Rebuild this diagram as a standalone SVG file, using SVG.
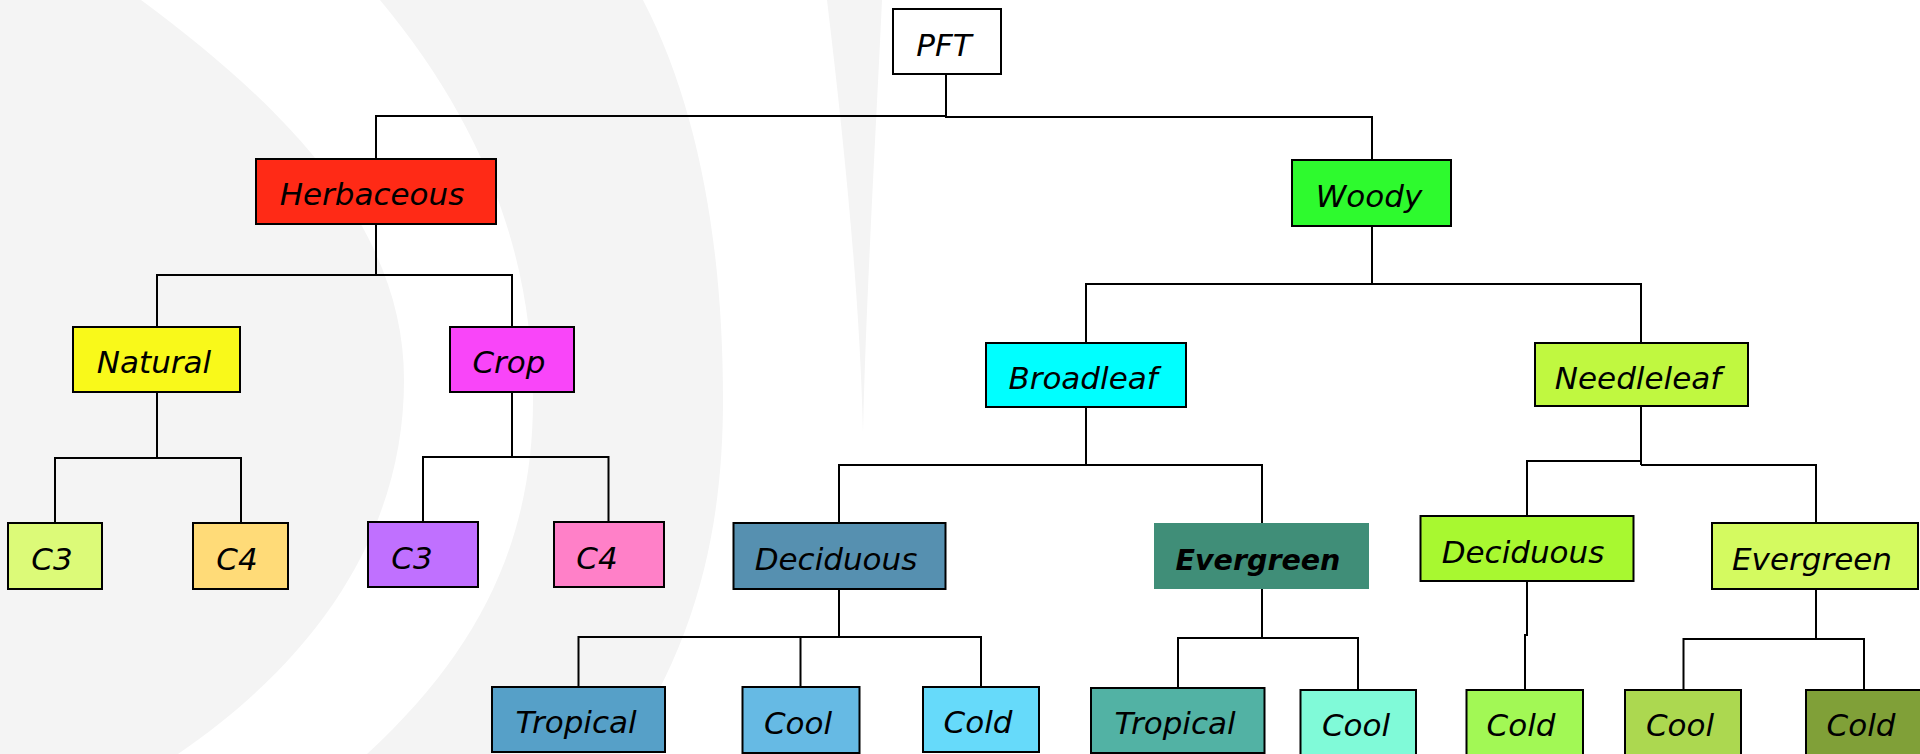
<svg xmlns="http://www.w3.org/2000/svg" width="1920" height="754" viewBox="0 0 1920 754">
<style>
.bg{fill:#f4f4f4}
.n rect{stroke:#000;stroke-width:2}
.n text{font-family:"DejaVu Sans","Liberation Sans",sans-serif;font-style:oblique;font-size:31px;fill:#000;text-anchor:middle}
.c{fill:none;stroke:#000;stroke-width:2}
</style>
<rect width="1920" height="754" fill="#fff"/>
<g id="watermark">
<path class="bg" d="M0,0 H141 C290,110 404,230 404,380 C404,520 330,650 178,754 H0 Z"/>
<path class="bg" d="M380,0 C480,120 533,250 533,400 C533,540 480,650 367,754 H620 C700,640 723,520 723,400 C723,250 700,110 643,0 Z"/>
<path class="bg" d="M827,0 C845,150 860,300 863,433 C866,300 875,150 882,0 Z"/>
</g>
<g id="connectors" class="c">
<path d="M376,159 V116 H946 M946,74 V117 H1372 V160"/>
<path d="M376,224 V275 M157,327 V275 H512 V327"/>
<path d="M1372,226 V284 M1086,343 V284 H1641 V343"/>
<path d="M157,392 V458 M55,523 V458 H241 V523"/>
<path d="M512,392 V457 M423,522 V457 H608.5 V522"/>
<path d="M1086,407 V465 M839,523 V465 H1262 V523"/>
<path d="M1641,406 V465 M1527,516 V461 H1641 M1641,465 H1816 V523"/>
<path d="M839,589 V637 M578.5,687 V637 H981 V687 M800.5,637 V687"/>
<path d="M1262,589 V638 M1178,687 V638 H1358 V690"/>
<path d="M1527,581 V635 H1525 V690"/>
<path d="M1816,589 V639 M1683.5,690 V639 H1864 V690"/>
</g>
<g id="pft" class="n"><rect x="893" y="9" width="108" height="65" fill="#fff"/><text x="944" y="56">PFT</text></g>
<g id="herbaceous" class="n"><rect x="256" y="159" width="240" height="65" fill="#ff2a16"/><text x="372" y="205">Herbaceous</text></g>
<g id="woody" class="n"><rect x="1292" y="160" width="159" height="66" fill="#2efa2e"/><text x="1369" y="207">Woody</text></g>
<g id="natural" class="n"><rect x="73" y="327" width="167" height="65" fill="#f9f91a"/><text x="154" y="373">Natural</text></g>
<g id="crop" class="n"><rect x="450" y="327" width="124" height="65" fill="#f945f9"/><text x="509" y="373">Crop</text></g>
<g id="broadleaf" class="n"><rect x="986" y="343" width="200" height="64" fill="#00ffff"/><text x="1083" y="389">Broadleaf</text></g>
<g id="needleleaf" class="n"><rect x="1535" y="343" width="213" height="63" fill="#c0f840"/><text x="1638" y="389">Needleleaf</text></g>
<g id="c3-natural" class="n"><rect x="8" y="523" width="94" height="66" fill="#dcfa78"/><text x="52" y="570">C3</text></g>
<g id="c4-natural" class="n"><rect x="193" y="523" width="95" height="66" fill="#ffdb78"/><text x="237" y="570">C4</text></g>
<g id="c3-crop" class="n"><rect x="368" y="522" width="110" height="65" fill="#c070ff"/><text x="412" y="569">C3</text></g>
<g id="c4-crop" class="n"><rect x="554" y="522" width="110" height="65" fill="#ff80c8"/><text x="597" y="569">C4</text></g>
<g id="deciduous-broad" class="n"><rect x="733.5" y="523" width="212" height="66" fill="#5690b0"/><text x="836" y="570">Deciduous</text></g>
<g id="evergreen-broad" class="n"><rect x="1154" y="523" width="215" height="66" fill="#408e78" style="stroke:none"/><text x="1258" y="570" style="font-weight:bold;font-size:28.5px">Evergreen</text></g>
<g id="deciduous-needle" class="n"><rect x="1420.5" y="516" width="213" height="65" fill="#a8f830"/><text x="1523" y="563">Deciduous</text></g>
<g id="evergreen-needle" class="n"><rect x="1712" y="523" width="206" height="66" fill="#d4fa60"/><text x="1812" y="570">Evergreen</text></g>
<g id="tropical-decid" class="n"><rect x="492" y="687" width="173" height="65" fill="#56a0c8"/><text x="576" y="733">Tropical</text></g>
<g id="cool-decid" class="n"><rect x="742.5" y="687" width="117" height="66" fill="#66bae4"/><text x="798" y="734">Cool</text></g>
<g id="cold-decid" class="n"><rect x="923" y="687" width="116" height="65" fill="#66dafa"/><text x="978" y="733">Cold</text></g>
<g id="tropical-ever" class="n"><rect x="1091" y="688" width="173.5" height="65" fill="#52b2a4"/><text x="1175" y="734">Tropical</text></g>
<g id="cool-ever" class="n"><rect x="1300.5" y="690" width="115.5" height="70" fill="#80fad8"/><text x="1356" y="736">Cool</text></g>
<g id="cold-needle" class="n"><rect x="1466.5" y="690" width="116.5" height="70" fill="#a2f855"/><text x="1521" y="736">Cold</text></g>
<g id="cool-needle" class="n"><rect x="1625" y="690" width="116" height="70" fill="#acd850"/><text x="1680" y="736">Cool</text></g>
<g id="cold-needle-ever" class="n"><rect x="1806" y="690" width="120" height="70" fill="#80a038"/><text x="1861" y="736">Cold</text></g>
</svg>
